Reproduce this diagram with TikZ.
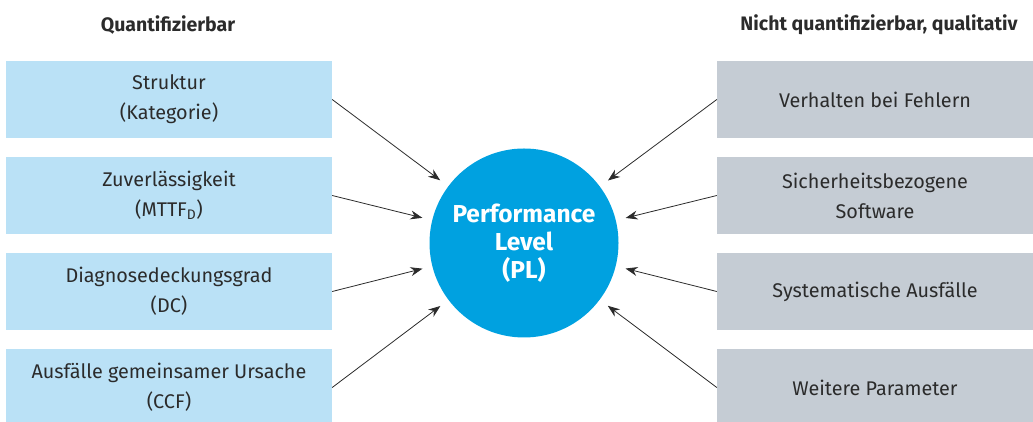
\documentclass[tikz,border=0pt]{standalone}
\usepackage{fontspec}
\setmainfont{Fira Sans}
\usepackage{tikz}
\usetikzlibrary{arrows.meta, positioning}
\definecolor{quantcolor}{HTML}{BAE1F6}
\definecolor{qualcolor}{HTML}{C5CCD4}
\definecolor{plcolor}{HTML}{00A1E0}
\definecolor{txtcolor}{HTML}{2B2B2B}

\begin{document}
\begin{tikzpicture}[
    x=1pt, y=1pt,
    box/.style={rectangle, inner sep=0pt, minimum height=77pt, align=center, text=txtcolor, font=\fontsize{19.8}{30}\selectfont},
    lbox/.style={box, fill=quantcolor, minimum width=326pt},
    rbox/.style={box, fill=qualcolor, minimum width=316pt},
    head/.style={font=\fontsize{19.5}{22}\selectfont\bfseries, text=txtcolor},
    arr/.style={-{Stealth[length=12pt, width=9pt]}, line width=0.8pt, txtcolor, shorten >=10pt}
]
\useasboundingbox (0,0) rectangle (1033,422);

% -- HEADINGS --
\node[head] (hq) at (168,397) {Quantifizierbar};
\node[head] (hn) at (879,397) {Nicht quantifizierbar, qualitativ};

% -- CENTRE: Performance Level --
\node[circle, fill=plcolor, minimum size=189pt, inner sep=0pt, align=center, text=white,
      font=\fontsize{24.5}{28}\selectfont\bfseries] (pl) at (524,179) {Performance\\Level\\(PL)};

% -- LEFT: quantifiable --
\node[lbox] (l1) at (169,322.5) {Struktur\\(Kategorie)};
\node[lbox] (l2) at (169,226.5) {Zuverlässigkeit\\(MTTF\textsubscript{D})};
\node[lbox] (l3) at (169,130.5) {Diagnosedeckungsgrad\\(DC)};
\node[lbox] (l4) at (169,34.5) {Ausfälle gemeinsamer Ursache\\(CCF)};

% -- RIGHT: qualitative --
\node[rbox] (r1) at (875,322.5) {Verhalten bei Fehlern};
\node[rbox] (r2) at (875,226.5) {Sicherheitsbezogene\\Software};
\node[rbox] (r3) at (875,130.5) {Systematische Ausfälle};
\node[rbox] (r4) at (875,34.5) {Weitere Parameter};

% -- ARROWS --
\foreach \n in {l1,l2,l3,l4} {
    \draw[arr] (\n.east) -- (pl);
}
\foreach \n in {r1,r2,r3,r4} {
    \draw[arr] (\n.west) -- (pl);
}

\end{tikzpicture}
\end{document}
